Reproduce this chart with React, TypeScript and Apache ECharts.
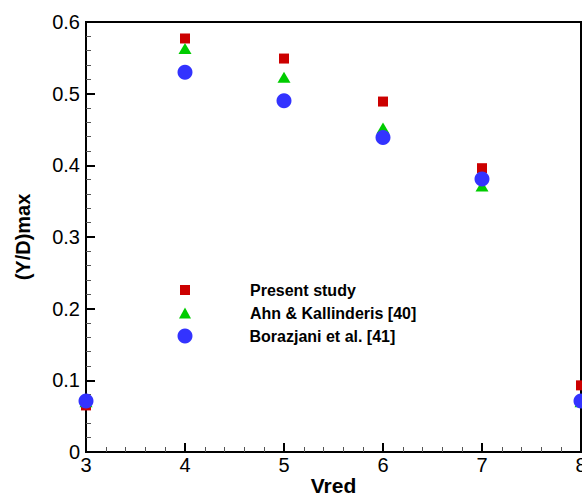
import React, { useEffect, useRef } from "react";
import * as echarts from "echarts";

const xValues = [3, 4, 5, 6, 7, 8];
const presentStudy = [0.065, 0.577, 0.549, 0.489, 0.396, 0.093];
const ahnKallinderis = [0.07, 0.563, 0.523, 0.452, 0.371, 0.07];
const borazjani = [0.071, 0.53, 0.49, 0.439, 0.381, 0.071];
const seriesNames = ["Present study", "Ahn & Kallinderis [40]", "Borazjani et al. [41]"];

const FONT = "Liberation Sans, Arial, sans-serif";

function pairs(ys: number[]) {
  return xValues.map((x, i) => [x, ys[i]]);
}

function legendFor(name: string, w: number, h: number, top: number, pad: number) {
  return {
    data: [name],
    orient: "vertical",
    left: 185 - w / 2,
    top,
    padding: 0,
    itemWidth: w,
    itemHeight: h,
    selectedMode: false,
    formatter: (n: string) => `{t|${n}}`,
    textStyle: {
      rich: {
        t: {
          fontFamily: FONT,
          fontWeight: "bold",
          fontSize: 16,
          color: "#000",
          padding: [0, 0, 0, pad],
        },
      },
    },
  };
}

export default function App() {
  const ref = useRef<HTMLDivElement>(null);
  useEffect(() => {
    if (!ref.current) return;
    const chart = echarts.init(ref.current, undefined, { renderer: "svg" });
    chart.setOption({
      animation: false,
      backgroundColor: "#fff",
      grid: {
        left: 86,
        top: 22,
        right: 1,
        bottom: 46,
        outerBoundsMode: "none",
        containLabel: false,
        show: true,
        borderColor: "#000",
        borderWidth: 2,
        backgroundColor: "transparent",
      },
      legend: [
        legendFor(seriesNames[0], 10, 10, 282, 55),
        legendFor(seriesNames[1], 12, 11, 305, 54),
        legendFor(seriesNames[2], 15, 15, 328, 52),
      ],
      xAxis: {
        type: "value",
        min: 3,
        max: 8,
        interval: 1,
        name: "Vred",
        nameLocation: "middle",
        nameGap: 23,
        nameMoveOverlap: false,
        nameTextStyle: { fontFamily: FONT, fontWeight: "bold", fontSize: 21, color: "#000", lineHeight: 21 },
        axisLine: { show: true, lineStyle: { color: "#000", width: 2 } },
        axisTick: { show: true, inside: true, length: 9, lineStyle: { color: "#000", width: 2 } },
        minorTick: { show: true, splitNumber: 5, length: 5, lineStyle: { color: "#555", width: 1 } },
        splitLine: { show: false },
        axisLabel: { fontFamily: FONT, fontSize: 20, color: "#000", margin: 3 },
      },
      yAxis: {
        type: "value",
        min: 0,
        max: 0.6,
        interval: 0.1,
        name: "(Y/D)max",
        nameLocation: "middle",
        nameGap: 53,
        nameMoveOverlap: false,
        nameTextStyle: { fontFamily: FONT, fontWeight: "bold", fontSize: 20, color: "#000" },
        axisLine: { show: true, lineStyle: { color: "#000", width: 2 } },
        axisTick: { show: true, inside: true, length: 9, lineStyle: { color: "#000", width: 2 } },
        minorTick: { show: true, splitNumber: 5, length: 5, lineStyle: { color: "#555", width: 1 } },
        splitLine: { show: false },
        axisLabel: { fontFamily: FONT, fontSize: 20, color: "#000", margin: 6 },
      },
      series: [
        {
          name: seriesNames[0],
          type: "scatter",
          symbol: "rect",
          symbolSize: 10,
          itemStyle: { color: "#CC0000", opacity: 1 },
          data: pairs(presentStudy),
          z: 2,
        },
        {
          name: seriesNames[1],
          type: "scatter",
          symbol: "triangle",
          symbolSize: [13, 11],
          itemStyle: { color: "#00CC00", opacity: 1 },
          data: pairs(ahnKallinderis),
          z: 3,
        },
        {
          name: seriesNames[2],
          type: "scatter",
          symbol: "circle",
          symbolSize: 15,
          itemStyle: { color: "#3333FF", opacity: 1 },
          data: pairs(borazjani),
          z: 4,
        },
      ],
    });
    return () => chart.dispose();
  }, []);
  return (
    <div
      ref={ref}
      style={{ position: "fixed", left: 0, top: 0, width: 582, height: 498, background: "#fff" }}
    />
  );
}
